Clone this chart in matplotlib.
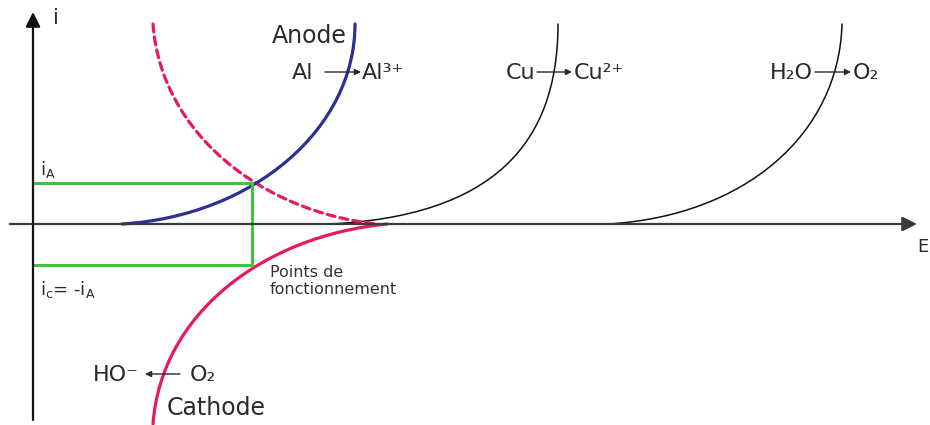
import matplotlib
matplotlib.use("Agg")
import matplotlib.pyplot as plt
from matplotlib.path import Path
from matplotlib.patches import PathPatch

# Curve control points (E, i), cubic Bezier: start, ctrl1, ctrl2, end
anode_al = [(89, 0), (220, 8), (322, 95), (322, 200)]
anode_cu = [(297, 0), (460, 8), (525, 80), (525, 200)]
anode_h2o = [(575, 0), (712, 8), (806, 90), (809, 200)]
cathode_ext = [(120, 200), (128, 90), (230, 12), (344, 0)]     # dashed, reflected O2 curve
cathode_o2 = [(354, 0), (230, -12), (128, -90), (120, -200)]

# Operating point
E_op = 219
i_A = 41
i_C = -i_A

# Axis extents
E_min, E_max = -23, 884
i_min, i_max = -196, 212

blue = "#2b2f96"
pink = "#e8195e"
green = "#3fc43f"
axis_col = "#3a3a3a"
text_col = "#2a2a2a"

fig = plt.figure(figsize=(9.3, 4.25), dpi=100)
ax = fig.add_axes([0, 0, 1, 1])
ax.set_xlim(-33, 897)
ax.set_ylim(-201, 224)
ax.axis("off")


def bezier(ax, pts, color, lw, ls="-"):
    codes = [Path.MOVETO, Path.CURVE4, Path.CURVE4, Path.CURVE4]
    patch = PathPatch(Path(pts, codes), facecolor="none", edgecolor=color,
                      lw=lw, linestyle=ls, capstyle="round")
    ax.add_patch(patch)


# axes with arrow heads
ax.annotate("", xy=(E_max, 0), xytext=(E_min, 0),
            arrowprops=dict(arrowstyle="-|>", color=axis_col, lw=1.6,
                            mutation_scale=22, shrinkA=0, shrinkB=0))
ax.annotate("", xy=(0, i_max), xytext=(0, i_min),
            arrowprops=dict(arrowstyle="-|>", color="#111111", lw=1.6,
                            mutation_scale=22, shrinkA=0, shrinkB=0))
ax.text(20, 206, "i", fontsize=15, color=text_col, ha="left", va="center")
ax.text(884, -23, "E", fontsize=13, color=text_col, ha="left", va="center")

# current-potential curves
bezier(ax, anode_cu, "#111111", 1.1)
bezier(ax, anode_h2o, "#111111", 1.1)
bezier(ax, cathode_ext, pink, 2.3, ls=(0, (2.5, 1.6)))
bezier(ax, cathode_o2, pink, 2.3)
bezier(ax, anode_al, blue, 2.3)

# operating point construction
ax.plot([0, E_op, E_op, 0], [i_A, i_A, i_C, i_C], color=green, lw=2.2,
        solid_joinstyle="miter")

ax.text(7, 55, "i$_\\mathregular{A}$", fontsize=13, color=text_col,
        ha="left", va="center")
ax.text(7, -66, "i$_\\mathregular{c}$= -i$_\\mathregular{A}$", fontsize=13,
        color=text_col, ha="left", va="center")
ax.text(237, -57, "Points de\nfonctionnement", fontsize=11.5, color="#333333",
        ha="left", va="center", linespacing=1.1)


def reaction(ax, x_left, y, left, right, x_a0, x_a1, x_right, size=16,
             direction=1):
    ax.text(x_left, y, left, fontsize=size, color=text_col, ha="left",
            va="center")
    start, end = (x_a0, x_a1) if direction > 0 else (x_a1, x_a0)
    ax.annotate("", xy=(end, y + 1), xytext=(start, y + 1),
                arrowprops=dict(arrowstyle="-|>", color=text_col, lw=1.0,
                                mutation_scale=9, shrinkA=0, shrinkB=0))
    ax.text(x_right, y, right, fontsize=size, color=text_col, ha="left",
            va="center")


ax.text(239, 188, "Anode", fontsize=17, color=text_col, ha="left", va="center")
reaction(ax, 259, 151, "Al", "Al³⁺", 292, 328, 329)
reaction(ax, 473, 151, "Cu", "Cu²⁺", 504, 539, 541)
reaction(ax, 737, 151, "H₂O", "O₂", 782, 818, 820)
reaction(ax, 60, -151, "HO⁻", "O₂", 112, 147, 157, direction=-1)
ax.text(134, -184, "Cathode", fontsize=17, color=text_col, ha="left",
        va="center")

fig.savefig("out.png", dpi=100, facecolor="white")
